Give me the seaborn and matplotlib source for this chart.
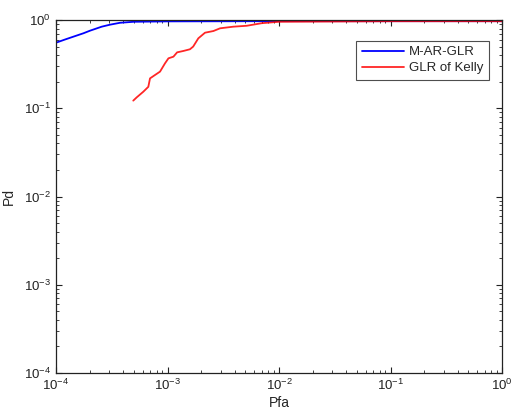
import numpy as np
import pandas as pd
import seaborn as sns
import matplotlib.pyplot as plt
from matplotlib.ticker import LogLocator, NullFormatter

# values (log-log ROC curves)
pfa_mar = [1e-4, 1.2e-4, 1.43e-4, 1.76e-4, 2.02e-4, 2.57e-4, 3.05e-4, 3.75e-4,
           5e-4, 1e-3, 1e-2, 1e-1, 1.0]
pd_mar = [0.553, 0.60, 0.647, 0.707, 0.757, 0.84, 0.885, 0.93,
          0.955, 0.965, 0.97, 0.97, 0.97]

pfa_kelly = [4.93e-4, 5.3e-4, 6.07e-4, 6.73e-4, 6.97e-4, 7.72e-4, 8.57e-4, 9.5e-4,
             1.02e-3, 1.13e-3, 1.22e-3, 1.39e-3, 1.59e-3, 1.70e-3, 1.89e-3, 2.17e-3,
             2.58e-3, 2.96e-3, 3.89e-3, 5.13e-3, 7e-3, 1e-2, 1e-1, 1.0]
pd_kelly = [0.122, 0.133, 0.154, 0.175, 0.218, 0.238, 0.26, 0.323,
            0.368, 0.384, 0.43, 0.446, 0.466, 0.50, 0.62, 0.718,
            0.75, 0.805, 0.84, 0.86, 0.92, 0.955, 0.968, 0.968]

labels = ["M-AR-GLR", "GLR of Kelly"]

sns.set_style("ticks")
plt.rcParams['font.family'] = ['Liberation Sans', 'DejaVu Sans']
plt.rcParams['mathtext.fontset'] = 'custom'
plt.rcParams['mathtext.rm'] = 'Liberation Sans'
plt.rcParams['mathtext.it'] = 'Liberation Sans'

fig = plt.figure(figsize=(5.11, 4.12), dpi=100)
ax = fig.add_axes([56 / 511, 39 / 412, 446 / 511, 353 / 412])

df1 = pd.DataFrame({"Pfa": pfa_mar, "Pd": pd_mar})
df2 = pd.DataFrame({"Pfa": pfa_kelly, "Pd": pd_kelly})
sns.lineplot(data=df1, x="Pfa", y="Pd", ax=ax, color="#0000ff", lw=1.3,
             label=labels[0], sort=False, estimator=None)
sns.lineplot(data=df2, x="Pfa", y="Pd", ax=ax, color="#ff0000", lw=1.3, alpha=0.85,
             label=labels[1], sort=False, estimator=None)

ax.set_xscale("log")
ax.set_yscale("log")
ax.set_xlim(1e-4, 1)
ax.set_ylim(1e-4, 1)

for a in (ax.xaxis, ax.yaxis):
    a.set_major_locator(LogLocator(base=10, numticks=10))
    a.set_minor_locator(LogLocator(base=10, subs=np.arange(2, 10), numticks=10))
    a.set_minor_formatter(NullFormatter())

ax.tick_params(which="both", direction="in", top=True, right=True, labelsize=9.5, colors="#222222")
ax.tick_params(which="major", length=4, width=0.8)
ax.tick_params(which="minor", length=2.5, width=0.6)
for s in ax.spines.values():
    s.set_linewidth(0.9)
    s.set_color("#222222")

ax.set_xlabel("Pfa", fontsize=10, labelpad=2)
ax.set_ylabel("Pd", fontsize=10, labelpad=6)

leg = ax.legend(loc="upper right", bbox_to_anchor=(0.985, 0.96), fontsize=9.5,
                frameon=True, fancybox=False, edgecolor="#222222",
                handlelength=3.2, borderpad=0.4, labelspacing=0.3, handletextpad=0.4)
leg.get_frame().set_linewidth(0.8)

fig.savefig("out.png", dpi=100)
